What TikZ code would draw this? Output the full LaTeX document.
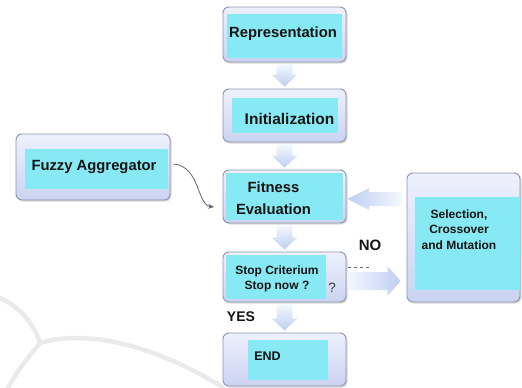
\documentclass[tikz,border=0pt]{standalone}
\usepackage{fontspec}
\setmainfont{Liberation Sans}
\usetikzlibrary{calc,arrows.meta,shadows}
\definecolor{cyanfill}{RGB}{135,233,243}
\definecolor{frametop}{RGB}{238,241,252}
\definecolor{framebot}{RGB}{203,211,242}
\definecolor{framedraw}{RGB}{140,148,172}
\definecolor{arrlight}{RGB}{244,247,253}
\definecolor{arrblue}{RGB}{190,207,242}
\definecolor{wm}{RGB}{234,234,234}
\definecolor{txt}{RGB}{20,20,20}
\definecolor{qtxt}{RGB}{60,60,60}
\tikzset{
  frame/.style={rounded corners=6pt, draw=framedraw, line width=0.9pt,
    top color=frametop, bottom color=framebot, inner sep=0pt,
    drop shadow={shadow xshift=1.5pt, shadow yshift=-1.5pt, opacity=0.3, fill=gray}},
  inner/.style={fill=cyanfill, draw=none, inner sep=0pt},
  lbl/.style={font=\bfseries, text=txt, inner sep=0pt, align=center},
  vblock/.style={top color=arrlight, bottom color=arrblue, draw=none},
  hblockL/.style={left color=arrblue, right color=arrlight, draw=none},
  hblockR/.style={left color=arrlight, right color=arrblue, draw=none},
  curv/.style={draw=gray!80!black, line width=0.8pt, -{Stealth[length=6pt,width=5pt]}},
}
\newcommand\vblk[2]{%
  \path[vblock] let \p1=(#1.south), \p2=(#2.north) in
    (\x1-8pt,\y1-2pt) -- (\x1+8pt,\y1-2pt) -- (\x1+8pt,\y2+14pt) -- (\x1+13pt,\y2+14pt)
    -- (\x1,\y2+2pt) -- (\x1-13pt,\y2+14pt) -- (\x1-8pt,\y2+14pt) -- cycle;}
\begin{document}
\begin{tikzpicture}[x=1pt,y=-1pt]
\useasboundingbox (0,0) rectangle (522,388);
% faint background watermark
\draw[wm, line width=4.5pt, line cap=round]
  (0,298) .. controls (22,308) and (34,325) .. (40,343)
  .. controls (28,358) and (16,372) .. (8,388);
\draw[wm, line width=4.5pt]
  (40,343) .. controls (90,328) and (160,348) .. (224,388);
% boxes
\node[frame, minimum width=123pt, minimum height=55pt] (rep) at (284.5,34.5) {};
\node[inner, minimum width=115pt, minimum height=44pt] (repin) at (284.5,36) {};
\node[frame, minimum width=123pt, minimum height=53pt] (init) at (284.5,115.5) {};
\node[inner, minimum width=106pt, minimum height=35pt] (initin) at (285,115.5) {};
\node[frame, minimum width=123pt, minimum height=53pt] (fit) at (284.5,196.5) {};
\node[inner, minimum width=117pt, minimum height=47pt] (fitin) at (284.5,196.5) {};
\node[frame, minimum width=123pt, minimum height=50pt] (stop) at (284.5,277) {};
\node[inner, minimum width=100pt, minimum height=44pt] (stopin) at (276,277) {};
\node[frame, minimum width=123pt, minimum height=53pt] (end) at (284.5,359.5) {};
\node[inner, minimum width=80pt, minimum height=40pt] (endin) at (288,360) {};
\node[frame, minimum width=154pt, minimum height=66pt] (fuzzy) at (93,167) {};
\node[inner, minimum width=143pt, minimum height=40pt] (fuzzyin) at (96.5,169) {};
\node[frame, minimum width=113pt, minimum height=129pt] (sel) at (463.5,237.5) {};
\node[inner, minimum width=105pt, minimum height=93pt] (selin) at (467.5,243.5) {};
% texts
\node[lbl, font=\bfseries\fontsize{14.8}{17}\selectfont] (trep) at (283,34) {Representation};
\node[lbl, font=\bfseries\fontsize{15.5}{17}\selectfont] (tinit) at (289.5,119) {Initialization};
\node[lbl, font=\bfseries\fontsize{14.8}{22}\selectfont] (tfit) at (273.5,198) {Fitness\\Evaluation};
\node[lbl, font=\bfseries\fontsize{12}{15}\selectfont] (tstop) at (277,278.5) {Stop Criterium\\Stop now ?};
\node[font=\fontsize{13.5}{15}\selectfont, text=qtxt, inner sep=0pt] (tq) at (332,287.5) {?};
\node[lbl, font=\bfseries\fontsize{12}{15.5}\selectfont] (tsel) at (459,229.5) {Selection,\\Crossover\\and Mutation};
\node[lbl, font=\bfseries\fontsize{14.8}{17}\selectfont] (tfuzzy) at (94,167) {Fuzzy Aggregator};
\node[lbl, font=\bfseries\fontsize{12.5}{15}\selectfont] (tend) at (267.5,356) {END};
\node[lbl, font=\bfseries\fontsize{15}{17}\selectfont] (tno) at (370,245) {NO};
\node[lbl, font=\bfseries\fontsize{14}{17}\selectfont] (tyes) at (241,317) {YES};
% vertical block arrows
\vblk{rep}{init}
\vblk{init}{fit}
\vblk{fit}{stop}
\vblk{stop}{end}
% horizontal block arrows
\coordinate (yl) at (0,199);
\coordinate (yr) at (0,281);
\path[hblockL] let \p1=(sel.west |- yl), \p2=(fit.east |- yl) in
  (\x1-5pt,\y1+7pt) -- (\x2+23pt,\y1+7pt) -- (\x2+23pt,\y1+11pt) -- (\x2+1pt,\y1)
  -- (\x2+23pt,\y1-11pt) -- (\x2+23pt,\y1-7pt) -- (\x1-5pt,\y1-7pt) -- cycle;
\path[hblockR] let \p1=(stop.east |- yr), \p2=(sel.west |- yr) in
  (\x1+1pt,\y1+9pt) -- (\x2-19pt,\y1+9pt) -- (\x2-19pt,\y1+15pt) -- (\x2-6pt,\y1)
  -- (\x2-19pt,\y1-15pt) -- (\x2-19pt,\y1-9pt) -- (\x1+1pt,\y1-9pt) -- cycle;
% dashed stub
\coordinate (da) at (348,267);
\coordinate (db) at (370,267);
\draw[gray!80!black, line width=0.9pt, dash pattern=on 3pt off 3pt] (da) -- (db);
% curved connector
\coordinate (fa) at (214,207);
\draw[curv] ([xshift=3pt,yshift=3pt]fuzzy.east) .. controls (200,166) and (197,205) .. (fa);
\end{tikzpicture}
\end{document}
